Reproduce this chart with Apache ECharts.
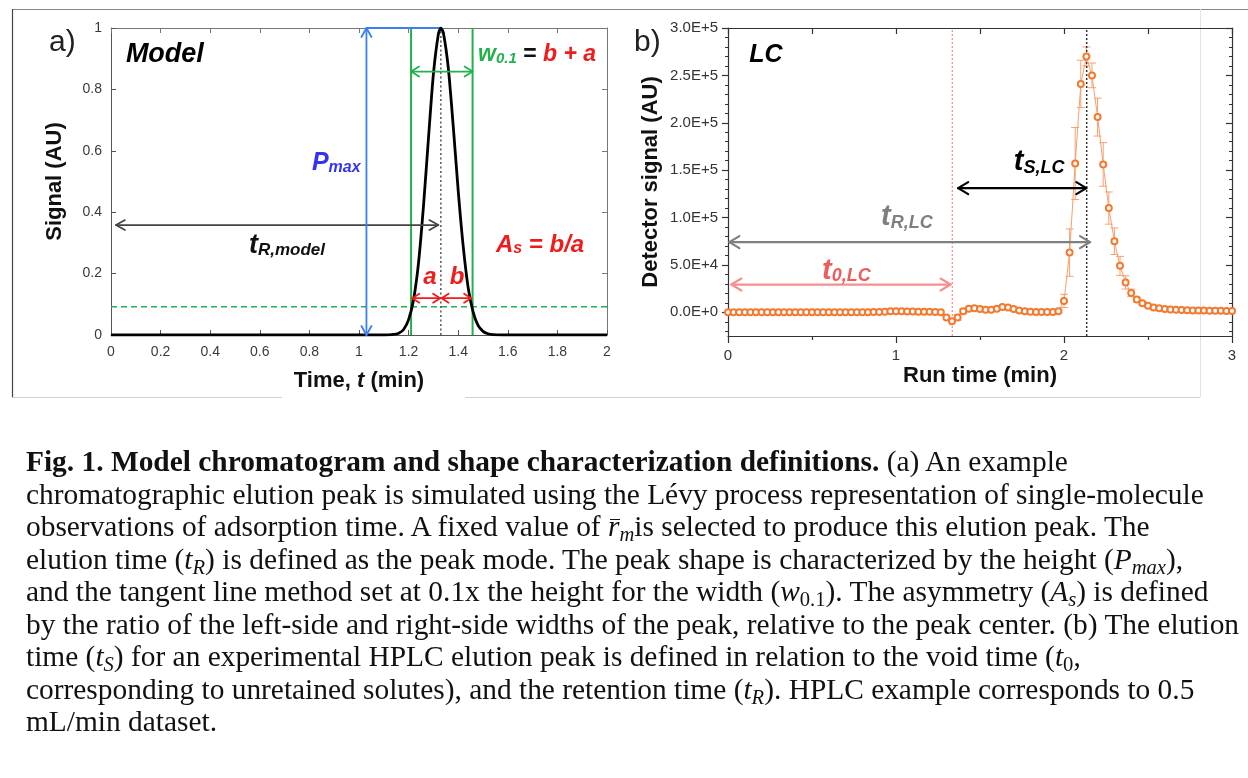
<!DOCTYPE html>
<html>
<head>
<meta charset="utf-8">
<title>Model chromatogram and shape characterization definitions</title>
<script src="https://cdn.jsdelivr.net/npm/echarts@6/dist/echarts.min.js"></script>
<style>
  html, body { margin: 0; padding: 0; background: #fff; }
  #chart { position: absolute; left: 0; top: 0; width: 1248px; height: 778px; }
  #caption {
    position: absolute; left: 26px; top: 445px;
    font-family: 'Liberation Serif', 'Times New Roman', serif;
    font-size: 29.4px; line-height: 32.5px; color: #111; white-space: nowrap;
  }
  #caption sub { font-size: 0.7em; vertical-align: -0.22em; line-height: 0; }
  #caption .m { font-style: italic; }
  #caption .bar { position: relative; display: inline-block; font-style: italic; }
  #caption .bar::before {
    content: ''; position: absolute; left: 0.08em; right: -0.02em; top: 0.3em;
    border-top: 1.4px solid #111;
  }
</style>
</head>
<body>
<div id="chart"></div>
<div id="caption">
<b>Fig. 1. Model chromatogram and shape characterization definitions.</b> (a) An example<br>
chromatographic elution peak is simulated using the Lévy process representation of single-molecule<br>
observations of adsorption time. A fixed value of <span class="bar">r</span><sub class="m">m</sub>is selected to produce this elution peak. The<br>
elution time (<span class="m">t</span><sub class="m">R</sub>) is defined as the peak mode. The peak shape is characterized by the height (<span class="m">P</span><sub class="m">max</sub>),<br>
and the tangent line method set at 0.1x the height for the width (<span class="m">w</span><sub>0.1</sub>). The asymmetry (<span class="m">A</span><sub class="m">s</sub>) is defined<br>
by the ratio of the left-side and right-side widths of the peak, relative to the peak center. (b) The elution<br>
time (<span class="m">t</span><sub class="m">S</sub>) for an experimental HPLC elution peak is defined in relation to the void time (<span class="m">t</span><sub>0</sub>,<br>
corresponding to unretained solutes), and the retention time (<span class="m">t</span><sub class="m">R</sub>). HPLC example corresponds to 0.5<br>
mL/min dataset.
</div>
<script>
// ---------- Panel a: simulated (model) elution peak ----------
const modelTime   = [0, 1.00, 1.10, 1.14, 1.16, 1.18, 1.20, 1.22, 1.24, 1.26, 1.28, 1.30, 1.32, 1.33,
                     1.34, 1.36, 1.38, 1.40, 1.42, 1.44, 1.46, 1.48, 1.50, 1.52, 1.54, 1.58, 2.0];
const modelSignal = [0, 0, 0, 0.002, 0.006, 0.018, 0.05, 0.115, 0.235, 0.42, 0.64, 0.85, 0.98, 1.0,
                     0.985, 0.87, 0.68, 0.47, 0.29, 0.155, 0.075, 0.031, 0.012, 0.004, 0.001, 0, 0];

// characteristic values of the model peak (min / AU)
const modelRetention = 1.33;   // peak mode, t_R
const widthLeft = 1.21;        // left edge of w0.1
const widthRight = 1.458;      // right edge of w0.1
const tenthLevel = 0.092;      // 0.1x height reference level
const pmaxTime = 1.03;         // where the height is indicated
const peakHeight = 1;

// annotation arrows of panel a: [x1, y1, x2, y2]
const arrowTR    = [0.02, 0.358, 1.32, 0.358];
const arrowPmax  = [pmaxTime, 0, pmaxTime, peakHeight];
const arrowW     = [widthLeft, 0.858, widthRight, 0.858];
const arrowA     = [1.215, 0.12, 1.327, 0.12];
const arrowB     = [1.333, 0.12, 1.452, 0.12];

// ---------- Panel b: HPLC run (0.5 mL/min) ----------
const lcSampleInterval = 2 / 60;  // min between detector readings
const lcSignal = [
  0, 0, 0, 0, 0, 0, 0, 0, 0, 0,
  0, 0, 0, 0, 0, 0, 0, 0, 0, 0,
  0, 0, 0, 0, 0, 0, 200, 300, 700, 1000,
  1200, 1000, 900, 800, 700, 600, 500, 300, 100, -5500,
  -9500, -5500, 1000, 3800, 4200, 3500, 2800, 2700, 3800, 5500,
  5000, 3500, 2000, 1000, 500, 300, 300, 300, 300, 1200,
  12000, 63000, 157000, 241000, 270000, 250000, 206000, 156000, 110000, 75000,
  49000, 31500, 20500, 13500, 9500, 7000, 5200, 4200, 3500, 3000,
  2700, 2400, 2200, 2000, 1900, 1800, 1700, 1600, 1600, 1500,
  1500
];
const lcError = [
  0, 0, 0, 0, 0, 0, 0, 0, 0, 0,
  0, 0, 0, 0, 0, 0, 0, 0, 0, 0,
  0, 0, 0, 0, 0, 0, 0, 0, 0, 0,
  0, 0, 0, 0, 0, 0, 0, 0, 0, 0,
  0, 3000, 2500, 0, 0, 0, 0, 0, 0, 0,
  0, 0, 0, 0, 0, 0, 0, 0, 0, 1500,
  7000, 25000, 38000, 25000, 10000, 13000, 20000, 23000, 17000, 14000,
  10000, 7000, 4000, 2500, 1800, 1200, 1000, 0, 0, 0,
  0, 0, 0, 0, 0, 0, 0, 0, 0, 0,
  0
];
const lcVoidTime = 1.335;     // t_0,LC
const lcRetention = 2.135;    // t_R,LC
const lcAxisMin = -25000, lcAxisMax = 300000;
const lcMajorTicks = [0, 50000, 100000, 150000, 200000, 250000, 300000];
const lcMinorTicks = [-20000, -10000, 10000, 20000, 30000, 40000, 60000, 70000, 80000, 90000,
                      110000, 120000, 130000, 140000, 160000, 170000, 180000, 190000,
                      210000, 220000, 230000, 240000, 260000, 270000, 280000, 290000];

// annotation arrows of panel b: [x1, y1, x2, y2]
const arrowTS  = [1.37, 131000, 2.133, 131000];
const arrowTRb = [0.008, 74000, 2.155, 74000];
const arrowT0  = [0.02, 29300, 1.325, 29300];

// ---------- styling ----------
const F = "'Liberation Sans', Arial, Helvetica, sans-serif";
const GREEN = '#22b14c', BLUE = '#3a80f0', RED = '#ee1c1c', ORANGE = '#f37a2e';

const chart = echarts.init(document.getElementById('chart'), null, { renderer: 'canvas' });

// rich-text tokens for "main + subscript" labels (zrender style keys)
function richSet(mainSize, subSize, color, extra) {
  const base = { fontFamily: F, fontWeight: 'bold', fontStyle: 'italic', fill: color, verticalAlign: 'bottom' };
  const r = {
    m: Object.assign({}, base, { fontSize: mainSize, lineHeight: mainSize }),
    s: Object.assign({}, base, { fontSize: subSize, lineHeight: Math.round(subSize * 0.5) })
  };
  return Object.assign(r, extra || {});
}

function arrowSeries(seg, xi, yi, color, width, headLen, headW) {
  return {
    type: 'custom', xAxisIndex: xi, yAxisIndex: yi, silent: true, z: 6,
    data: [seg],
    renderItem: function (params, api) {
      const p1 = api.coord([api.value(0), api.value(1)]);
      const p2 = api.coord([api.value(2), api.value(3)]);
      const style = { stroke: color, lineWidth: width, fill: null, lineCap: 'round', lineJoin: 'round' };
      const children = [{ type: 'line', shape: { x1: p1[0], y1: p1[1], x2: p2[0], y2: p2[1] }, style: style }];
      [[p1, p2], [p2, p1]].forEach(function (pair) {
        const tip = pair[0], tail = pair[1];
        const dx = tip[0] - tail[0], dy = tip[1] - tail[1];
        const len = Math.sqrt(dx * dx + dy * dy) || 1;
        const ux = dx / len, uy = dy / len;
        const bx = tip[0] - ux * headLen, by = tip[1] - uy * headLen;
        children.push({
          type: 'polyline',
          shape: { points: [[bx - uy * headW, by + ux * headW], [tip[0], tip[1]], [bx + uy * headW, by - ux * headW]] },
          style: style
        });
      });
      return { type: 'group', children: children };
    }
  };
}

function labelSeries(items, xi, yi) {
  return {
    type: 'custom', xAxisIndex: xi, yAxisIndex: yi, silent: true, z: 8,
    data: items.map(function (it) { return it.at; }),
    renderItem: function (params, api) {
      const it = items[params.dataIndex];
      const p = api.coord([api.value(0), api.value(1)]);
      return {
        type: 'text', x: p[0], y: p[1],
        style: { text: it.text, rich: it.rich, align: it.align || 'left', verticalAlign: 'middle' }
      };
    }
  };
}

function vline(x, y0, y1, xi, yi, color, width, type) {
  return {
    type: 'line', xAxisIndex: xi, yAxisIndex: yi, silent: true, symbol: 'none', z: 3,
    data: [[x, y0], [x, y1]],
    lineStyle: { color: color, width: width, type: type || 'solid' }
  };
}
function hline(x0, x1, y, xi, yi, color, width, type) {
  return {
    type: 'line', xAxisIndex: xi, yAxisIndex: yi, silent: true, symbol: 'none', z: 3,
    data: [[x0, y], [x1, y]],
    lineStyle: { color: color, width: width, type: type || 'solid' }
  };
}

const panelALabels = [
  { at: [0.06, 0.912], text: '{m|Model}', rich: richSet(27, 18, '#000') },
  { at: [0.81, 0.56], text: '{m|P}{s|max}', rich: richSet(25, 16, '#3434f0') },
  { at: [0.556, 0.293], text: '{m|t}{s|R,model}', rich: richSet(27, 17, '#111') },
  { at: [1.48, 0.912], text: '{m|w}{s|0.1}{k| = }{r|b + a}',
    rich: richSet(23, 15, GREEN, {
      k: { fontFamily: F, fontWeight: 'bold', fontSize: 23, lineHeight: 23, fill: '#111', verticalAlign: 'bottom' },
      r: { fontFamily: F, fontWeight: 'bold', fontStyle: 'italic', fontSize: 23, lineHeight: 23, fill: RED, verticalAlign: 'bottom' }
    }) },
  { at: [1.552, 0.293], text: '{m|A}{s|s}{m| = b/a}', rich: richSet(24, 16, RED) },
  { at: [1.286, 0.189], text: '{m|a}', rich: richSet(24, 16, RED), align: 'center' },
  { at: [1.395, 0.189], text: '{m|b}', rich: richSet(24, 16, RED), align: 'center' }
];

const panelBLabels = [
  { at: [0.127, 271300], text: '{m|LC}', rich: richSet(25, 16, '#000') },
  { at: [1.701, 158200], text: '{m|t}{s|S,LC}', rich: richSet(29, 18, '#000') },
  { at: [0.911, 100100], text: '{m|t}{s|R,LC}', rich: richSet(29, 18, '#7f7f7f') },
  { at: [0.56, 44100], text: '{m|t}{s|0,LC}', rich: richSet(29, 18, '#f05c5c') }
];

const lcPoints = lcSignal.map(function (v, i) { return [i * lcSampleInterval, v]; });
const lcBars = lcSignal.map(function (v, i) { return [i * lcSampleInterval, v, lcError[i]]; })
  .filter(function (d) { return d[2] > 0; });

const axisTextA = { color: '#3a3a3a', fontSize: 14, fontFamily: F };
const axisTextB = { color: '#333', fontSize: 15, fontFamily: F };
const titleStyle = { fontFamily: F, fontWeight: 'bold', fontSize: 22, color: '#111' };

const option = {
  animation: false,
  backgroundColor: '#fff',
  textStyle: { fontFamily: F },
  graphic: [
    // page frame
    { type: 'line', shape: { x1: 12, y1: 9.5, x2: 1248, y2: 9.5 }, style: { stroke: '#888', lineWidth: 1 }, z: 0 },
    { type: 'line', shape: { x1: 12.5, y1: 9, x2: 12.5, y2: 397 }, style: { stroke: '#444', lineWidth: 1.2 }, z: 0 },
    { type: 'line', shape: { x1: 12, y1: 397.5, x2: 282, y2: 397.5 }, style: { stroke: '#d0d0d0', lineWidth: 1 }, z: 0 },
    { type: 'line', shape: { x1: 465, y1: 397.5, x2: 1200, y2: 397.5 }, style: { stroke: '#d0d0d0', lineWidth: 1 }, z: 0 },
    { type: 'line', shape: { x1: 1200.5, y1: 9, x2: 1200.5, y2: 397 }, style: { stroke: '#e2e2e2', lineWidth: 1 }, z: 0 },
    // panel letters
    { type: 'text', x: 49, y: 43, style: { text: 'a)', font: '30px ' + F, fill: '#222', verticalAlign: 'middle' }, z: 10 },
    { type: 'text', x: 634, y: 43, style: { text: 'b)', font: '30px ' + F, fill: '#222', verticalAlign: 'middle' }, z: 10 }
  ],
  grid: [
    { left: 111, top: 28, width: 496, height: 307, outerBoundsMode: 'none', containLabel: false },
    { left: 728, top: 28, width: 504, height: 308, outerBoundsMode: 'none', containLabel: false }
  ],
  xAxis: [
    {
      gridIndex: 0, type: 'value', position: 'bottom', min: 0, max: 2, interval: 0.2,
      axisLine: { onZero: false, lineStyle: { color: '#555', width: 1 } },
      axisTick: { inside: true, length: 5, lineStyle: { color: '#555' } },
      axisLabel: Object.assign({ margin: 10 }, axisTextA),
      splitLine: { show: false },
      name: '{b|Time, }{i|t}{b| (min)}', nameLocation: 'middle', nameGap: 35,
      nameTextStyle: { rich: { b: titleStyle, i: Object.assign({}, titleStyle, { fontStyle: 'italic' }) } }
    },
    {
      gridIndex: 0, type: 'value', position: 'top', min: 0, max: 2, interval: 0.2,
      axisLine: { onZero: false, lineStyle: { color: '#777', width: 1 } },
      axisTick: { inside: true, length: 5, lineStyle: { color: '#777' } },
      axisLabel: { show: false }, splitLine: { show: false }
    },
    {
      gridIndex: 1, type: 'value', position: 'bottom', min: 0, max: 3, interval: 1,
      axisLine: { onZero: false, lineStyle: { color: '#333', width: 1.2 } },
      axisTick: { inside: false, length: 7, lineStyle: { color: '#333', width: 1.2 } },
      minorTick: { show: true, splitNumber: 2, length: 4, lineStyle: { color: '#333', width: 1.2 } },
      axisLabel: Object.assign({ margin: 12 }, axisTextB),
      splitLine: { show: false }, minorSplitLine: { show: false },
      name: 'Run time (min)', nameLocation: 'middle', nameGap: 29, nameTextStyle: titleStyle
    },
    {
      gridIndex: 1, type: 'value', position: 'top', min: 0, max: 3, interval: 0.5,
      axisLine: { onZero: false, lineStyle: { color: '#333', width: 1.2 } },
      axisTick: { inside: true, length: 6, lineStyle: { color: '#333', width: 1.2 } },
      axisLabel: { show: false }, splitLine: { show: false }
    }
  ],
  yAxis: [
    {
      gridIndex: 0, type: 'value', position: 'left', min: 0, max: 1, interval: 0.2,
      axisLine: { onZero: false, lineStyle: { color: '#555', width: 1 } },
      axisTick: { inside: true, length: 5, lineStyle: { color: '#555' } },
      axisLabel: Object.assign({ margin: 9 }, axisTextA),
      splitLine: { show: false },
      name: 'Signal (AU)', nameLocation: 'middle', nameGap: 45, nameRotate: 90, nameTextStyle: titleStyle
    },
    {
      gridIndex: 0, type: 'value', position: 'right', min: 0, max: 1, interval: 0.2,
      axisLine: { onZero: false, lineStyle: { color: '#777', width: 1 } },
      axisTick: { inside: true, length: 5, lineStyle: { color: '#777' } },
      axisLabel: { show: false }, splitLine: { show: false }
    },
    {
      gridIndex: 1, type: 'value', position: 'left', min: lcAxisMin, max: lcAxisMax,
      axisLine: { onZero: false, lineStyle: { color: '#333', width: 1.2 } },
      axisTick: { inside: false, length: 6, customValues: lcMajorTicks, lineStyle: { color: '#333', width: 1.2 } },
      axisLabel: Object.assign({
        margin: 10, customValues: lcMajorTicks,
        formatter: function (v) { return Number(v).toExponential(1).toUpperCase(); }
      }, axisTextB),
      splitLine: { show: false },
      name: 'Detector signal (AU)', nameLocation: 'middle', nameGap: 66, nameRotate: 90, nameTextStyle: titleStyle
    },
    {
      gridIndex: 1, type: 'value', position: 'left', min: lcAxisMin, max: lcAxisMax,
      axisLine: { show: false, onZero: false },
      axisTick: { inside: false, length: 3, customValues: lcMinorTicks, lineStyle: { color: '#333', width: 1 } },
      axisLabel: { show: false }, splitLine: { show: false }
    },
    {
      gridIndex: 1, type: 'value', position: 'right', min: lcAxisMin, max: lcAxisMax,
      axisLine: { onZero: false, lineStyle: { color: '#333', width: 1.2 } },
      axisTick: { inside: true, length: 6, customValues: lcMajorTicks, lineStyle: { color: '#333', width: 1.2 } },
      axisLabel: { show: false }, splitLine: { show: false }
    },
    {
      gridIndex: 1, type: 'value', position: 'right', min: lcAxisMin, max: lcAxisMax,
      axisLine: { show: false, onZero: false },
      axisTick: { inside: true, length: 3, customValues: lcMinorTicks, lineStyle: { color: '#333', width: 1 } },
      axisLabel: { show: false }, splitLine: { show: false }
    }
  ],
  series: [
    // ----- panel a -----
    hline(0, 2, tenthLevel, 0, 0, GREEN, 1.6, [6, 4]),
    vline(widthLeft, 0, peakHeight, 0, 0, GREEN, 2),
    vline(widthRight, 0, peakHeight, 0, 0, GREEN, 2),
    vline(modelRetention, 0, peakHeight, 0, 0, '#555', 1.5, [2, 2.5]),
    hline(pmaxTime, modelRetention, peakHeight, 0, 0, BLUE, 2.2),
    {
      type: 'line', name: 'model', xAxisIndex: 0, yAxisIndex: 0, z: 4, silent: true,
      data: modelTime.map(function (t, i) { return [t, modelSignal[i]]; }),
      showSymbol: false, symbol: 'none', smooth: 0.25,
      lineStyle: { color: '#000', width: 2.8 }
    },
    arrowSeries(arrowTR, 0, 0, '#444', 1.7, 9, 5),
    arrowSeries(arrowPmax, 0, 0, BLUE, 1.8, 9, 5),
    arrowSeries(arrowW, 0, 0, GREEN, 1.8, 8, 5),
    arrowSeries(arrowA, 0, 0, RED, 1.8, 7, 4.5),
    arrowSeries(arrowB, 0, 0, RED, 1.8, 7, 4.5),
    labelSeries(panelALabels, 0, 0),

    // ----- panel b -----
    vline(lcVoidTime, lcAxisMin, lcAxisMax, 2, 2, '#f08a8a', 1.2, [2, 2]),
    vline(lcRetention, lcAxisMin, lcAxisMax, 2, 2, '#333', 1.5, [2, 2]),
    {
      type: 'custom', name: 'error', xAxisIndex: 2, yAxisIndex: 2, z: 2, silent: true,
      data: lcBars,
      renderItem: function (params, api) {
        const t = api.value(0), v = api.value(1), e = api.value(2);
        const top = api.coord([t, v + e]), bot = api.coord([t, v - e]);
        const cw = 4;
        const st = { stroke: '#f4a270', lineWidth: 1 };
        return {
          type: 'group', children: [
            { type: 'line', shape: { x1: top[0], y1: top[1], x2: bot[0], y2: bot[1] }, style: st },
            { type: 'line', shape: { x1: top[0] - cw, y1: top[1], x2: top[0] + cw, y2: top[1] }, style: st },
            { type: 'line', shape: { x1: bot[0] - cw, y1: bot[1], x2: bot[0] + cw, y2: bot[1] }, style: st }
          ]
        };
      }
    },
    {
      type: 'line', name: 'LC', xAxisIndex: 2, yAxisIndex: 2, z: 4, silent: true,
      data: lcPoints,
      symbol: 'emptyCircle', symbolSize: 6, showSymbol: true,
      itemStyle: { color: ORANGE, borderWidth: 1.1 },
      lineStyle: { color: '#f6a06c', width: 1 }
    },
    arrowSeries(arrowTS, 2, 2, '#000', 2.2, 10, 6),
    arrowSeries(arrowTRb, 2, 2, '#7f7f7f', 2.2, 10, 6),
    arrowSeries(arrowT0, 2, 2, '#f49090', 2.2, 10, 6),
    labelSeries(panelBLabels, 2, 2)
  ]
};

chart.setOption(option);
</script>
</body>
</html>
